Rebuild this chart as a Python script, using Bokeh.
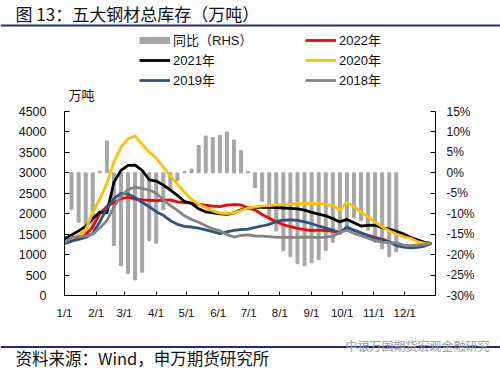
from bokeh.plotting import figure
from bokeh.models import (Range1d, LinearAxis, FixedTicker, Legend, LegendItem,
                          Label, BoxAnnotation)
from bokeh.embed import file_html
from bokeh.resources import INLINE

# ---------------- data ----------------
# weekly observations (week index 0..52)
weeks = list(range(53))
# month-start tick positions on the week axis and their labels
month_pos = [0, 4.48, 8.5, 12.97, 17.28, 21.77, 26.08, 30.5, 34.99, 39.33, 43.81, 48.2]
month_labels = ["1/1", "2/1", "3/1", "4/1", "5/1", "6/1", "7/1", "8/1", "9/1", "10/1", "11/1", "12/1"]
left_ticks = [0, 500, 1000, 1500, 2000, 2500, 3000, 3500, 4000, 4500]
right_ticks = [-30, -25, -20, -15, -10, -5, 0, 5, 10, 15]

yr2022 = [1300, 1360, 1400, 1480, 1680, 2000, 2180, 2270, 2370, 2400, 2360, 2340, 2330, 2320, 2330, 2340,
          2290, 2270, 2260, 2230, 2210, 2185, 2175, 2210, 2225, 2215, 2140, 2090, 1980, 1890, 1800, 1730,
          1685, 1640, 1610, 1590, 1600, 1585, 1570, 1545, 1665, 1590, 1530, 1470, 1420, 1380, 1310, 1260]
yr2021 = [1380, 1480, 1580, 1690, 1880, 2040, 2020, 2770, 3060, 3180, 3190, 3060, 2830, 2800, 2700, 2580,
          2450, 2300, 2255, 2120, 2045, 2020, 1995, 1985, 2020, 2095, 2140, 2155, 2155, 2155, 2150, 2140,
          2130, 2120, 2090, 2035, 1990, 1950, 1880, 1800, 1860, 1780, 1700, 1715, 1720, 1660, 1625, 1570,
          1510, 1420, 1360, 1300, 1275]
yr2020 = [1300, 1390, 1470, 1610, 2030, 2360, 2740, 3260, 3630, 3830, 3900, 3700, 3510, 3360, 3140, 2920,
          2720, 2520, 2350, 2230, 2150, 2070, 2015, 2000, 2020, 2080, 2140, 2170, 2190, 2200, 2215, 2225,
          2235, 2245, 2255, 2255, 2250, 2235, 2200, 2090, 2275, 2180, 2040, 1930, 1790, 1680, 1580, 1505,
          1440, 1400, 1320, 1275, 1270]
yr2019 = [1270, 1330, 1370, 1420, 1520, 1800, 2130, 2370, 2500, 2480, 2390, 2280, 2170, 2050, 1960, 1830,
          1740, 1690, 1675, 1645, 1605, 1560, 1515, 1555, 1595, 1610, 1625, 1665, 1700, 1740, 1810, 1845,
          1850, 1835, 1800, 1755, 1700, 1650, 1600, 1530, 1675, 1600, 1530, 1460, 1400, 1365, 1310, 1220,
          1185, 1165, 1175, 1210, 1270]
yr2018 = [1290, 1420, 1440, 1450, 1500, 1650, 1830, 2170, 2420, 2590, 2650, 2620, 2580, 2500, 2340, 2200,
          2080, 1950, 1860, 1790, 1705, 1630, 1585, 1490, 1430, 1470, 1480, 1455, 1450, 1440, 1425, 1420,
          1420, 1425, 1430, 1425, 1420, 1425, 1450, 1540, 1595, 1520, 1460, 1400, 1340, 1305, 1295, 1285,
          1230, 1220, 1235, 1250, 1270]
# year-on-year change (%), weeks 1..47
yoy = [-8.9, -12.1, -15.0, -13.8, 0.4, 7.8, -17.8, -22.7, -24.6, -26.2, -24.3, -16.6, -17.2, -9.0, -4.2,
       -1.9, 0.3, 0.9, 6.7, 9.0, 8.6, 9.2, 10.0, 8.0, 5.4, 0.3, -3.6, -7.0, -11.0, -14.2, -19.1, -20.5,
       -22.2, -22.7, -22.0, -21.2, -19.0, -17.0, -15.0, -14.0, -11.0, -11.7, -14.0, -17.0, -18.6, -20.5, -19.3]
yoy_weeks = weeks[1:1 + len(yoy)]

# ---------------- layout geometry (page pixels) ----------------
W, H = 500, 370
FL, FR, FT, FB = 64, 435, 111, 295          # chart area
X0, X1 = 0, 52.55                           # week axis span
L0, L1 = 0, 4500                            # left axis span
R0, R1 = -30, 15                            # right axis span

xs = (X1 - X0) / (FR - FL)
ls = (L1 - L0) / (FB - FT)
rs = (R1 - R0) / (FB - FT)
x_range = Range1d(X0 - FL * xs, X1 + (W - FR) * xs)
y_range = Range1d(L0 - (H - FB) * ls, L1 + FT * ls)
pct_range = Range1d(R0 - (H - FB) * rs, R1 + FT * rs)

# ---------------- styles ----------------
LAT = "Liberation Sans"
CJK = "Noto Sans CJK SC"
MIX = "Liberation Sans, Noto Sans CJK SC"
NAVY = "#1F2A80"
BAR = "#A6A6A6"
C22, C21, C20, C19, C18 = "#FF0000", "#000000", "#FFC000", "#2B5486", "#858585"
LW = 2.8
TXT = "#111111"

p = figure(width=W, height=H, x_range=x_range, y_range=y_range,
           output_backend="svg", toolbar_location=None,
           min_border=0, min_border_left=0, min_border_right=0,
           min_border_top=0, min_border_bottom=0)
p.extra_y_ranges = {"pct": pct_range}
p.outline_line_color = None
p.xgrid.visible = False
p.ygrid.visible = False
p.background_fill_color = "white"
p.border_fill_color = "white"

xa = p.xaxis[0]
xa.fixed_location = L0
xa.bounds = (X0, X1)
xa.ticker = FixedTicker(ticks=month_pos)
xa.major_label_overrides = {t: l for t, l in zip(month_pos, month_labels)}
xa.major_tick_in = 4
xa.major_tick_out = 0
xa.minor_tick_line_color = None
xa.major_label_standoff = 11
xa.major_label_text_font = LAT
xa.major_label_text_font_size = "11.5px"
xa.major_label_text_color = TXT
xa.axis_line_color = "black"

ya = p.yaxis[0]
ya.fixed_location = X0
ya.bounds = (L0, L1)
ya.ticker = FixedTicker(ticks=left_ticks)
ya.major_tick_in = 5
ya.major_tick_out = 0
ya.minor_tick_line_color = None
ya.major_label_standoff = 18
ya.major_label_text_font = LAT
ya.major_label_text_font_size = "12.5px"
ya.major_label_text_color = TXT
ya.axis_line_color = "black"

ra = LinearAxis(y_range_name="pct", ticker=FixedTicker(ticks=right_ticks),
                major_label_overrides={t: f"{t}%" for t in right_ticks},
                fixed_location=X1, bounds=(R0, R1))
ra.major_tick_in = 5
ra.major_tick_out = 0
ra.minor_tick_line_color = None
ra.major_label_standoff = 11
ra.major_label_text_font = LAT
ra.major_label_text_font_size = "12px"
ra.major_label_text_color = TXT
ra.axis_line_color = "black"
p.add_layout(ra, "right")

# bars (RHS) and lines in series order
p.vbar(x=yoy_weeks, top=yoy, bottom=0, width=0.42, y_range_name="pct",
       fill_color=BAR, line_color=BAR)
r22 = p.line(weeks[:len(yr2022)], yr2022, line_color=C22, line_width=LW, line_join="round")
r21 = p.line(weeks, yr2021, line_color=C21, line_width=LW, line_join="round")
r20 = p.line(weeks, yr2020, line_color=C20, line_width=LW, line_join="round")
r19 = p.line(weeks, yr2019, line_color=C19, line_width=LW, line_join="round")
r18 = p.line(weeks, yr2018, line_color=C18, line_width=LW, line_join="round")
# legend swatch for the bars (a thick line; no visible data)
rbar = p.line(x=[X0, X0], y=[float("nan"), float("nan")], line_color=BAR, line_width=7,
              line_cap="butt")


def make_legend(items, x):
    return Legend(items=items, location=(x, H - 89), orientation="vertical",
                  glyph_width=31, glyph_height=14, label_height=14, label_standoff=3,
                  spacing=1, padding=0, margin=0, border_line_color=None,
                  background_fill_alpha=0, label_text_font=MIX,
                  label_text_font_size="13px", label_text_color=TXT)


p.add_layout(make_legend([LegendItem(label="同比（RHS）", renderers=[rbar]),
                          LegendItem(label="2021年", renderers=[r21]),
                          LegendItem(label="2019年", renderers=[r19])], 139), "center")
p.add_layout(make_legend([LegendItem(label="2022年", renderers=[r22]),
                          LegendItem(label="2020年", renderers=[r20]),
                          LegendItem(label="2018年", renderers=[r18])], 305), "center")


def box(top, bottom):
    return BoxAnnotation(left=0, right=W, top=H - top, bottom=H - bottom,
                         left_units="screen", right_units="screen",
                         top_units="screen", bottom_units="screen",
                         fill_color=NAVY, fill_alpha=1, line_color=None)


def label(x, y, text, font, size, color=TXT):
    return Label(x=x, y=H - y, x_units="screen", y_units="screen", text=text,
                 text_font=font, text_font_size=size, text_baseline="middle",
                 text_color=color)


p.add_layout(box(24, 26))
p.add_layout(box(345.5, 347.5))
p.add_layout(label(15, 13, "图 13：五大钢材总库存（万吨）", CJK, "17px"))
p.add_layout(label(68, 94, "万吨", CJK, "13px"))
p.add_layout(label(345, 345, "中银万国期货宏观金融研究", CJK, "12px", "#9A9A9A"))
p.add_layout(label(15, 357, "资料来源：Wind，申万期货研究所", CJK, "16.5px"))

open("out.html", "w").write(file_html(p, INLINE))
